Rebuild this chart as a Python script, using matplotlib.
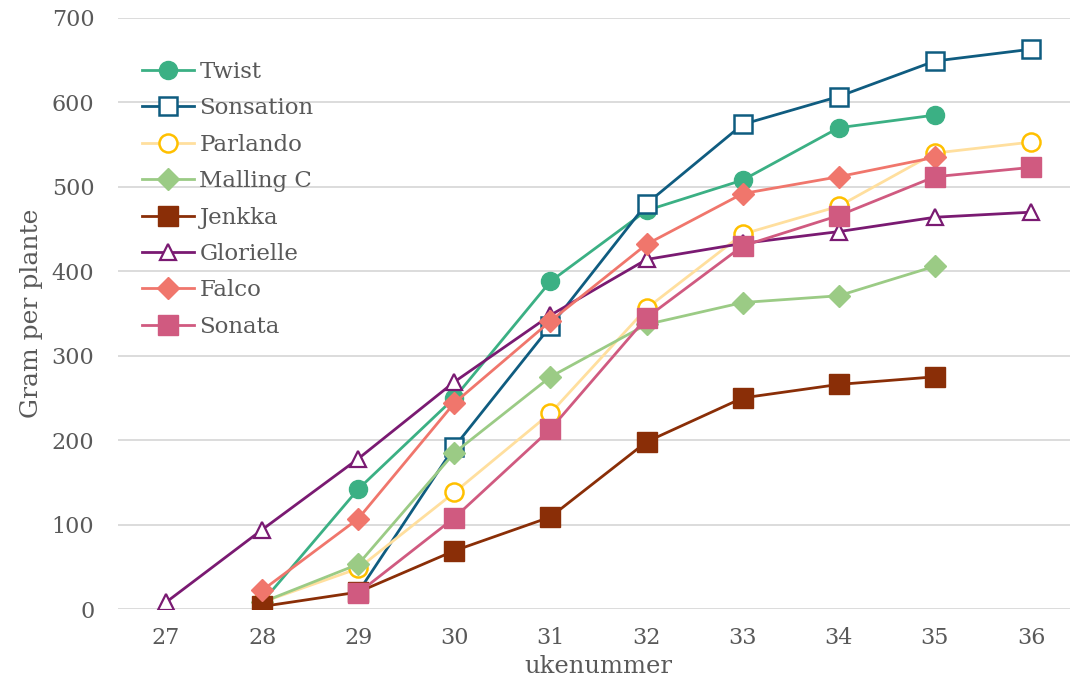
import numpy as np
import matplotlib
matplotlib.use("Agg")
import matplotlib.pyplot as plt

weeks = [27, 28, 29, 30, 31, 32, 33, 34, 35, 36]
nan = np.nan

twist     = [nan, 8, 142, 250, 388, 472, 508, 570, 585, nan]
sonsation = [nan, nan, 20, 192, 335, 480, 574, 607, 649, 663]
parlando  = [nan, 8, 48, 138, 232, 356, 444, 477, 540, 553]
malling_c = [nan, 8, 53, 185, 275, 337, 363, 371, 406, nan]
jenkka    = [nan, 3, 20, 69, 109, 198, 250, 266, 275, nan]
glorielle = [8, 94, 178, 269, 348, 414, 433, 447, 464, 470]
falco     = [nan, 22, 107, 244, 341, 432, 492, 512, 535, nan]
sonata    = [nan, nan, 19, 108, 213, 345, 430, 466, 512, 523]

series = [
    ("Twist", twist, dict(color="#3BB084", marker="o", ms=13, mfc="#3BB084", mec="#3BB084")),
    ("Sonsation", sonsation, dict(color="#0F5C80", marker="s", ms=13, mfc="white", mec="#0F5C80", mew=1.8)),
    ("Parlando", parlando, dict(color="#FFDF9E", marker="o", ms=13, mfc="white", mec="#FFC000", mew=1.8)),
    ("Malling C", malling_c, dict(color="#9BCB85", marker="D", ms=11, mfc="#9BCB85", mec="#9BCB85")),
    ("Jenkka", jenkka, dict(color="#8A2E07", marker="s", ms=14, mfc="#8A2E07", mec="#8A2E07")),
    ("Glorielle", glorielle, dict(color="#7A1A72", marker="^", ms=12, mfc="white", mec="#7A1A72", mew=1.6)),
    ("Falco", falco, dict(color="#F0766C", marker="D", ms=11, mfc="#F0766C", mec="#F0766C")),
    ("Sonata", sonata, dict(color="#D05A80", marker="s", ms=14, mfc="#D05A80", mec="#D05A80")),
]

plt.rcParams["font.family"] = ["DejaVu Serif"]
text_color = "#595959"

fig = plt.figure(figsize=(10.70, 6.81), dpi=100)
ax = fig.add_axes([118 / 1070, 72 / 681, (1079 - 118) / 1070, (609 - 18) / 681])

for name, vals, style in series:
    ax.plot(weeks, vals, lw=2.0, label=name, **style)

ax.set_xlim(26.5, 36.5)
ax.set_ylim(0, 700)
ax.set_xticks(weeks)
ax.set_yticks(range(0, 701, 100))
ax.grid(axis="y", color="#D9D9D9", lw=1.3)
ax.set_axisbelow(True)
for s in ax.spines.values():
    s.set_visible(False)
ax.tick_params(axis="both", length=0, colors=text_color, labelsize=16)
ax.tick_params(axis="x", pad=13)
ax.tick_params(axis="y", pad=17)

ax.set_xlabel("ukenummer", fontsize=17.5, color=text_color, labelpad=4)
ax.set_ylabel("Gram per plante", fontsize=18, color=text_color, labelpad=6)

leg = ax.legend(loc="upper left", bbox_to_anchor=(-0.004, 0.974), frameon=False,
                fontsize=16.5, handlelength=2.3, handletextpad=0.22,
                labelspacing=0.63, borderaxespad=0.8)
for t in leg.get_texts():
    t.set_color(text_color)

fig.savefig("out.png", dpi=100)
